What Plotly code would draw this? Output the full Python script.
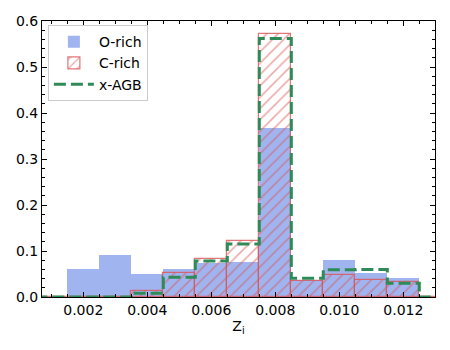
import plotly.graph_objects as go

# bin edges shared by the three histograms (width 0.001)
edges = [0.0005, 0.0015, 0.0025, 0.0035, 0.0045, 0.0055, 0.0065,
         0.0075, 0.0085, 0.0095, 0.0105, 0.0115, 0.0125, 0.0135]
centers = [(a + b) / 2 for a, b in zip(edges[:-1], edges[1:])]

o_rich = [0, 0.061, 0.092, 0.050, 0.061, 0.074, 0.077, 0.367, 0.037, 0.081, 0.053, 0.041, 0]
c_rich = [0, 0, 0, 0.012, 0.052, 0.082, 0.122, 0.571, 0.035, 0.048, 0.036, 0.033, 0]
x_agb = [0, 0, 0, 0.008, 0.043, 0.078, 0.115, 0.562, 0.041, 0.059, 0.060, 0.030, 0]

width = 0.001
red = '#d95555'

fig = go.Figure()
fig.add_trace(go.Bar(
    x=centers, y=o_rich, width=width, name='O-rich',
    marker=dict(color='rgba(65,105,225,0.5)', line=dict(width=0)),
))
fig.add_trace(go.Bar(
    x=centers, y=c_rich, width=width, name='C-rich',
    marker=dict(color='rgba(0,0,0,0)',
                line=dict(color='rgba(217,85,85,0.8)', width=1.2),
                pattern=dict(shape='/', fgcolor=red,
                             bgcolor='rgba(0,0,0,0)', size=8, solidity=0.2)),
))

# step outline for x-AGB
step_x = [edges[0]] + edges
step_y = [0] + x_agb + [0]
fig.add_trace(go.Scatter(
    x=step_x, y=step_y, mode='lines', name='x-AGB', line_shape='hv',
    line=dict(color='#2e8b57', width=3, dash='12px,5px'),
))

axis_style = dict(
    showline=True, linecolor='black', linewidth=1, mirror='ticks',
    ticks='inside', ticklen=5, tickcolor='black', showgrid=False, zeroline=False,
    tickfont=dict(size=14, color='black'), automargin=False,
)

# page body adds an 8px offset, so margins are shifted to compensate
fig.update_layout(
    width=450, height=350,
    margin=dict(l=34, r=23, t=13, b=61),
    barmode='overlay', bargap=0,
    plot_bgcolor='white', paper_bgcolor='white',
    font=dict(family='DejaVu Sans', size=14, color='black'),
    legend=dict(x=0.015, y=0.985, xanchor='left', yanchor='top',
                bordercolor='#cccccc', borderwidth=1,
                bgcolor='rgba(255,255,255,0.8)', font=dict(size=14),
                itemwidth=40, tracegroupgap=0),
    xaxis=dict(range=[0.00071, 0.01299], dtick=0.002, tick0=0,
               tickformat='.3f',
               minor=dict(dtick=0.0005, ticks='inside', ticklen=3, tickcolor='black'),
               title=dict(text='Z<sub>i</sub>', font=dict(size=14), standoff=4),
               **axis_style),
    yaxis=dict(range=[0, 0.6], dtick=0.1, tickformat='.1f',
               minor=dict(dtick=0.02, ticks='inside', ticklen=3, tickcolor='black'),
               **axis_style),
)

fig.write_html("out.html")
